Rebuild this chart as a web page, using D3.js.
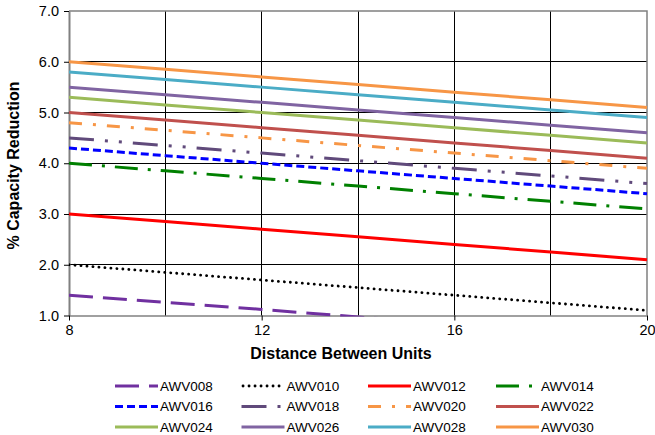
<!DOCTYPE html>
<html><head><meta charset="utf-8">
<script src="https://cdn.jsdelivr.net/npm/d3@7"></script>
<style>
body{margin:0;background:#fff;}
text{font-family:"Liberation Sans",Arial,sans-serif;}
</style></head>
<body><svg id="chart" width="655" height="435"></svg>
<script>
const distances = [8, 10, 12, 14, 16, 18, 20];
const seriesNames = ["AWV008","AWV010","AWV012","AWV014","AWV016","AWV018","AWV020","AWV022","AWV024","AWV026","AWV028","AWV030"];
const AWV008 = [1.4, 1.26, 1.12, 0.97, 0.83, 0.69, 0.55];
const AWV010 = [2.0, 1.85, 1.7, 1.55, 1.4, 1.25, 1.1];
const AWV012 = [3.0, 2.85, 2.7, 2.55, 2.4, 2.25, 2.1];
const AWV014 = [4.0, 3.85, 3.7, 3.55, 3.4, 3.25, 3.1];
const AWV016 = [4.3, 4.15, 4.0, 3.85, 3.7, 3.55, 3.4];
const AWV018 = [4.5, 4.35, 4.2, 4.05, 3.9, 3.75, 3.6];
const AWV020 = [4.8, 4.65, 4.5, 4.35, 4.2, 4.05, 3.9];
const AWV022 = [5.0, 4.85, 4.7, 4.55, 4.4, 4.25, 4.1];
const AWV024 = [5.3, 5.15, 5.0, 4.85, 4.7, 4.55, 4.4];
const AWV026 = [5.5, 5.35, 5.2, 5.05, 4.9, 4.75, 4.6];
const AWV028 = [5.8, 5.65, 5.5, 5.35, 5.2, 5.05, 4.9];
const AWV030 = [6.0, 5.85, 5.7, 5.55, 5.4, 5.25, 5.1];
const seriesValues = [AWV008, AWV010, AWV012, AWV014, AWV016, AWV018, AWV020, AWV022, AWV024, AWV026, AWV028, AWV030];
const yTicks = [1.0, 2.0, 3.0, 4.0, 5.0, 6.0, 7.0];
const xGrid = [8, 10, 12, 14, 16, 18, 20];
const xTickLabels = [8, 12, 16, 20];

const colors = ["#7030A0","#000000","#FF0000","#008000","#0000FF","#604A7B","#F79646","#C0504D","#9BBB59","#8064A2","#4BACC6","#F79646"];
const dashes = ["24,10","0.1,5.9","","23,10,3,10","8,4","25,11,3,11,3,11","13,11,3,11","","","","",""];
const widths = [3,2.8,3,3,3,3,3,3,3,3,3,3];

const svg = d3.select("#chart");
const L = 69, R = 647, T = 11, B = 315.5;
const x = d3.scaleLinear().domain([8, 20]).range([L, R]);
const y = d3.scaleLinear().domain([1, 7]).range([B, T]);

svg.append("defs").append("clipPath").attr("id","clip")
  .append("rect").attr("x", L).attr("y", T - 2).attr("width", R - L + 2).attr("height", B - T + 3);

// gridlines
svg.append("g").selectAll("line").data(yTicks.slice(1, -1)).join("line")
  .attr("x1", L).attr("x2", R).attr("y1", d => y(d)).attr("y2", d => y(d))
  .attr("stroke", "#000").attr("stroke-width", 1).attr("shape-rendering","crispEdges");
svg.append("g").selectAll("line").data(xGrid.slice(1, -1)).join("line")
  .attr("x1", d => x(d)).attr("x2", d => x(d)).attr("y1", T).attr("y2", B)
  .attr("stroke", "#000").attr("stroke-width", 1).attr("shape-rendering","crispEdges");
// border top/right
svg.append("path").attr("d", `M${L},${T}H${R}V${B}`).attr("fill","none")
  .attr("stroke","#808080").attr("stroke-width",1.5);

// axes
const yAxis = d3.axisLeft(y).tickValues(yTicks).tickFormat(d3.format(".1f")).tickSize(5).tickSizeOuter(0);
const gy = svg.append("g").attr("transform", `translate(${L},0)`).call(yAxis);
gy.select(".domain").attr("stroke","#808080").attr("stroke-width",2);
gy.selectAll(".tick line").attr("stroke","#000");
gy.selectAll("text").attr("font-size", 14.5).attr("fill","#000").attr("x", -10)
  .attr("font-family","'Liberation Sans',Arial,sans-serif");

const xAxis = d3.axisBottom(x).tickValues(xTickLabels).tickFormat(d3.format("d")).tickSize(5).tickSizeOuter(0);
const gx = svg.append("g").attr("transform", `translate(0,${B})`).call(xAxis);
gx.select(".domain").attr("stroke","#808080").attr("stroke-width",1.5);
gx.selectAll(".tick line").attr("stroke","#000");
gx.selectAll("text").attr("font-size", 14.5).attr("fill","#000").attr("y", 9)
  .attr("font-family","'Liberation Sans',Arial,sans-serif");

// lines
const line = d3.line().x(d => x(d[0])).y(d => y(d[1]));
const g = svg.append("g").attr("clip-path", "url(#clip)");
seriesValues.forEach((vals, i) => {
  g.append("path").datum(distances.map((dd, j) => [dd, vals[j]]))
    .attr("d", line).attr("fill", "none")
    .attr("stroke", colors[i]).attr("stroke-width", widths[i])
    .attr("stroke-dasharray", dashes[i] || null)
    .attr("stroke-linecap", i === 1 ? "round" : "butt");
});

// axis titles
svg.append("text").attr("x", 341).attr("y", 359).attr("text-anchor","middle")
  .attr("font-size", 16).attr("font-weight","bold").text("Distance Between Units");
svg.append("text").attr("transform", `translate(19,165.5) rotate(-90)`).attr("text-anchor","middle")
  .attr("font-size", 16).attr("font-weight","bold").text("% Capacity Reduction");

// legend
const colX = [115, 241.5, 368, 496];
const rowY = [386, 406.5, 427];
seriesNames.forEach((name, i) => {
  const cx = colX[i % 4], cy = rowY[Math.floor(i / 4)];
  const lg = svg.append("g");
  lg.append("line").attr("x1", cx + (i === 1 ? 1.5 : 0)).attr("x2", cx + 43).attr("y1", cy).attr("y2", cy)
    .attr("stroke", colors[i]).attr("stroke-width", widths[i])
    .attr("stroke-dasharray", dashes[i] || null)
    .attr("stroke-linecap", i === 1 ? "round" : "butt");
  lg.append("text").attr("x", cx + 45).attr("y", cy).attr("dy", "0.35em")
    .attr("font-size", 13.5).text(name);
});
</script>
</body></html>
